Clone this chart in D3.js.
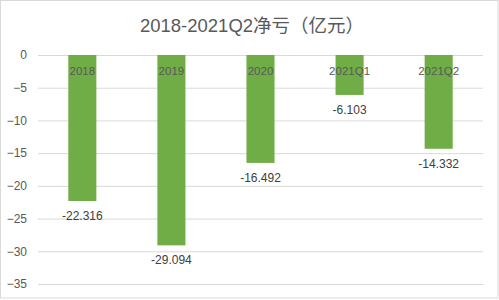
<!DOCTYPE html>
<html>
<head>
<meta charset="utf-8">
<script src="https://cdn.jsdelivr.net/npm/d3@7"></script>
<style>
  body{margin:0;background:#fff;}
  text{font-family:"Liberation Sans","Noto Sans CJK SC",sans-serif;}
</style>
</head>
<body>
<svg class="chart"></svg>
<script>
// datos del grafico
var categorias = ['2018','2019','2020','2021Q1','2021Q2'];
var valores = [-22.316,-29.094,-16.492,-6.103,-14.332];
var ticksY = [0,-5,-10,-15,-20,-25,-30,-35];
var titulo = '2018-2021Q2净亏（亿元）';

var W = 499, H = 300;
var canvas = d3.select('.chart').attr('width',W).attr('height',H);

// borde del area del grafico
canvas.append('rect')
  .attr('x',0.5).attr('y',0.5)
  .attr('width',W-1.5).attr('height',H-2.5)
  .attr('fill','#fff').attr('stroke','#d9d9d9');

var x = d3.scaleBand().domain(categorias).range([38,483]).paddingInner(0.685).paddingOuter(0.34);
var y = d3.scaleLinear().domain([0,-35]).range([55,284]);

/* lineas de la cuadricula y etiquetas del eje y */
var yAx = d3.axisLeft(y).tickValues(ticksY).tickSize(-(483-38)).tickFormat(d3.format('d'));
var g = canvas.append('g').attr('transform','translate(38,0)').call(yAx);
g.select('.domain').remove();
g.selectAll('.tick line').attr('stroke','#d9d9d9').attr('stroke-width',1);
g.selectAll('.tick text').attr('x',-11).attr('fill','#595959').style('font-size','12px');

canvas.selectAll('.barra')
  .data(valores)
  .enter()
  .append('rect')
    .classed('barra',true)
    .attr('x',(d,i)=>{return x(categorias[i])})
    .attr('y',y(0))
    .attr('width',x.bandwidth())
    .attr('height',d=>{return y(d)-y(0)})
    .attr('fill','#70ad47');

// etiquetas de categoria justo debajo del cero
canvas.selectAll('.cat')
  .data(categorias)
  .enter()
  .append('text')
    .attr('x',d=>{return x(d)+x.bandwidth()/2})
    .attr('y',y(0)+20)
    .attr('text-anchor','middle')
    .attr('fill','#595959')
    .style('font-size','11.5px')
    .text(d=>{return d});

// valores debajo de cada barra
canvas.selectAll('.val')
  .data(valores)
  .enter()
  .append('text')
    .attr('x',(d,i)=>{return x(categorias[i])+x.bandwidth()/2})
    .attr('y',d=>{return y(d)+19})
    .attr('text-anchor','middle')
    .attr('fill','#404040')
    .style('font-size','12px')
    .text(d=>{return d3.format('.3f')(d).replace('−','-')});

canvas.append('text')
  .attr('x',252).attr('y',32)
  .attr('text-anchor','middle')
  .attr('fill','#595959')
  .style('font-size','18.5px')
  .text(titulo);
</script>
</body>
</html>
